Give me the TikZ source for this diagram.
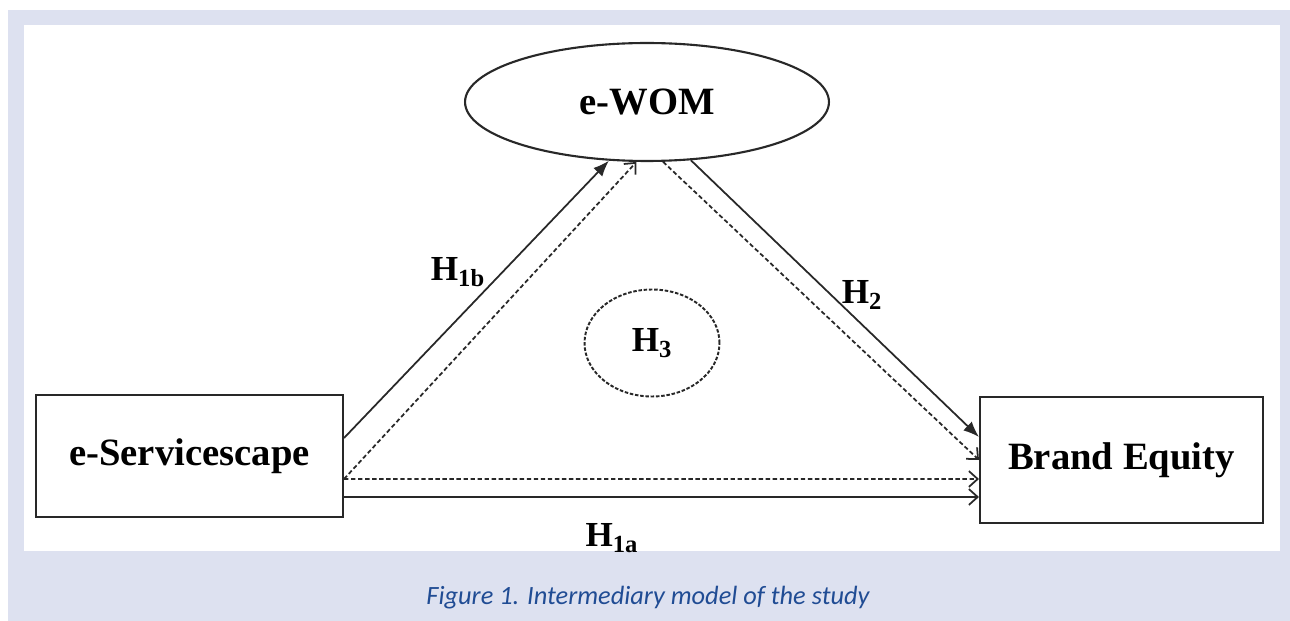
\documentclass[tikz,border=0pt]{standalone}
\usepackage{fontspec}
\setmainfont{Liberation Serif}
\newfontfamily\figcapfont{Carlito}
\usetikzlibrary{arrows.meta,shapes.geometric,positioning}
\definecolor{panelbg}{RGB}{221,225,240}
\definecolor{capblue}{RGB}{32,76,148}
\definecolor{linegray}{RGB}{40,40,40}

\tikzset{
  construct/.style={draw=linegray, line width=1.2pt, font=\fontsize{22}{26}\selectfont\bfseries},
  hyp/.style={font=\fontsize{20}{24}\selectfont\bfseries},
  direct/.style={draw=linegray, line width=1pt, -{Latex[length=9pt,width=7pt]}},
  mediated/.style={draw=linegray, line width=1pt, dash pattern=on 2.5pt off 1.5pt, -{Straight Barb[length=5pt,width=9pt]}},
  total/.style={draw=linegray, line width=1pt, -{Straight Barb[length=5pt,width=9pt]}}
}

\begin{document}
\begin{tikzpicture}[x=0.02cm, y=-0.02cm]
  % background and white panel
  \useasboundingbox (0,0) rectangle (1290,621);
  \fill[panelbg] (8,10) rectangle (1290,621);
  \fill[white] (24,25) rectangle (1280,551);

  % constructs
  \node[construct, ellipse, minimum width=7.28cm, minimum height=2.36cm] (ewom) at (647,102) {e-WOM};
  \node[construct, minimum width=6.14cm, minimum height=2.44cm] (serv) at (189.5,456) {e-Servicescape};
  \node[construct, minimum width=5.66cm, minimum height=2.52cm] (brand) at (1121.5,460) {Brand Equity};

  % mediation bubble
  \node[hyp, ellipse, draw=linegray, line width=1.1pt, dash pattern=on 2pt off 1pt,
        minimum width=2.7cm, minimum height=2.14cm] (hthree) at (652,343) {H\textsubscript{3}};

  % paths
  \draw[direct] ([yshift=0.36cm]serv.east) -- (ewom.237);
  \draw[mediated] ([yshift=-0.46cm]serv.east) -- (ewom.260);
  \draw[mediated] (ewom.285) -- (brand.west);
  \draw[direct] (ewom.307) -- ([yshift=0.46cm]brand.west);
  \draw[mediated] ([yshift=-0.46cm]serv.east) -- ([yshift=-0.38cm]brand.west);
  \draw[total] ([yshift=-0.82cm]serv.east) -- ([yshift=-0.74cm]brand.west);

  % hypothesis labels
  \node[hyp] (honeb) at (458,272) {H\textsubscript{1b}};
  \node[hyp] (htwo) at (862,295) {H\textsubscript{2}};
  \node[hyp] (honea) at (612,538) {H\textsubscript{1a}};

  % caption
  \node[font=\figcapfont\fontsize{15}{18}\selectfont\itshape, text=capblue] (caption) at (648,598)
    {Figure 1. Intermediary model of the study};
\end{tikzpicture}
\end{document}
